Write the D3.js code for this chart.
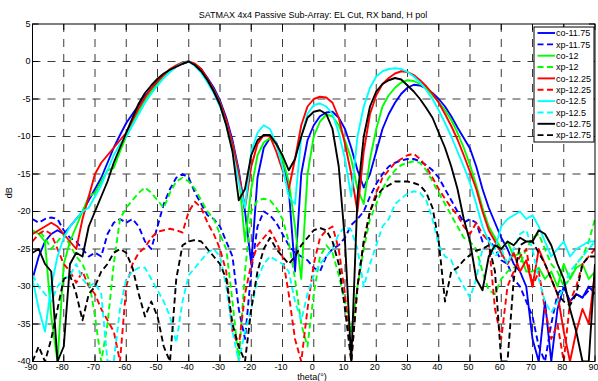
<!DOCTYPE html>
<meta charset="utf-8">
<style>
  body { margin:0; background:#fff; }
  text { font-family:"Liberation Sans", Arial, sans-serif; font-size:9px; fill:#000; }
</style>
<svg width="598" height="381"></svg>
<script src="https://d3js.org/d3.v7.min.js"></script>
<script>

// sample angles (deg) and axis ticks
var theta = d3.range(-90, 91, 2);
var xTicks = [-90,-80,-70,-60,-50,-40,-30,-20,-10,0,10,20,30,40,50,60,70,80,90];
var yTicks = [5,0,-5,-10,-15,-20,-25,-30,-35,-40];

// dB values, one per theta
var co1175 = [-29,-26,-24,-23,-22.5,-23,-22,-21,-20,-18.5,
  -17,-15.5,-13.5,-11.5,-9.8,-8.2,-7,-5.8,-4.6,-3.6,
  -2.8,-2,-1.3,-0.7,-0.3,0,-0.4,-1,-2.2,-3.5,
  -5.2,-7.5,-10.5,-14.5,-20,-27,-15.5,-11.5,-10.2,-10.8,
  -13,-17,-28,-15,-10.5,-8.5,-7.3,-6.8,-6.7,-7.5,
  -9,-11.5,-14.5,-16.8,-15,-12,-9,-7,-5.5,-4.3,
  -3.5,-3.1,-3.2,-3.6,-4.2,-5,-6,-7.3,-8.8,-10.2,
  -11.6,-14,-17,-19.5,-21.5,-23.5,-25,-27,-28,-30,
  -37,-40,-32,-40,-33,-30,-32,-31,-31.5,-30,
  -31];
var xp1175 = [-21,-21.5,-21,-20.8,-21,-22.5,-23.5,-24,-25,-26,
  -25.5,-26,-23,-21.5,-21,-21.5,-21,-22,-24,-25,
  -22,-19,-17,-15.5,-15,-15.5,-17.5,-19,-20.5,-21,
  -22,-24,-26,-33,-37,-28,-22,-20,-20.5,-21.5,
  -23,-24.5,-25.5,-26,-26.5,-27.5,-28,-26,-25,-24.5,
  -23.5,-21.8,-21,-20,-18,-16.3,-15,-14,-13.5,-13.2,
  -13,-13,-13.3,-13.8,-14.5,-15.5,-17,-18.5,-20,-21.5,
  -21,-21.5,-24,-23.5,-25,-26.5,-27,-29,-30,-32,
  -34,-38,-40,-35,-31,-30,-32,-31,-31.5,-30.5,
  -30];
var co12 = [-22.5,-23,-24,-34,-40,-27,-24,-22,-20,-18,
  -17.5,-16,-14.5,-14.2,-12,-10,-8.3,-6.6,-5.2,-4,
  -3,-2,-1.2,-0.6,-0.2,0,-0.4,-1.2,-2.5,-3.8,
  -5.5,-8,-11,-15,-24,-17,-12.5,-10.8,-10.2,-11,
  -13,-16,-22,-29,-15,-10,-8,-7.1,-7.3,-8.5,
  -10.5,-13,-17,-19,-13,-9,-6,-4.5,-3.5,-2.8,
  -2.5,-2.6,-3,-3.5,-4.5,-5.4,-6.5,-7.8,-9.5,-11.5,
  -13.8,-16.5,-19.5,-22,-23.5,-25,-24,-26,-25.5,-28,
  -28,-27.5,-29,-28,-30,-27,-29,-27.5,-27,-29,
  -28];
var xp12 = [-23,-22.5,-23.5,-25,-24,-23,-24.5,-26,-27,-29,
  -34,-40,-35,-27,-21,-19.5,-18.5,-17.5,-16.8,-17.5,
  -18.5,-19.5,-17.5,-16,-15.5,-16,-17,-18.5,-20,-21,
  -23,-25,-32,-40,-28,-20,-18.5,-18.3,-18.5,-19.5,
  -21,-24,-29,-35,-38,-31,-26,-24.5,-25.5,-28.5,
  -32,-36,-30,-25,-21,-19,-17,-15.5,-14.5,-13.8,
  -13.5,-13.3,-13.5,-14.5,-16,-17.5,-19,-20.5,-22,-23.5,
  -24,-25,-28,-30.5,-31,-29,-28,-27.5,-27,-25,
  -23.5,-23,-25,-27,-28,-30,-29,-27,-26,-24,
  -21];
var co1225 = [-23,-22.5,-22,-21.5,-22,-23,-24,-25,-21,-18,
  -15,-13.5,-12.5,-11.5,-10.5,-9.5,-7.8,-6.2,-4.8,-3.6,
  -2.6,-1.8,-1,-0.5,-0.1,0,-0.3,-1,-2.3,-3.8,
  -5.5,-7.8,-11,-15,-19.5,-14,-11,-9.8,-10,-12,
  -14.5,-17,-13,-8.5,-6,-5,-4.7,-4.8,-5.5,-7.5,
  -11,-15,-20,-12,-7,-4.5,-3,-2.2,-1.6,-1.3,
  -1.4,-1.8,-2.5,-3.3,-4.3,-5.5,-7,-8.6,-10.4,-12.5,
  -14.7,-17,-20,-22.5,-24,-25.5,-27,-25.5,-28,-26.5,
  -30,-25,-27,-29,-31,-36,-40,-36,-33,-35,
  -28];
var xp1225 = [-24,-23,-22.5,-23,-25,-27,-28,-29.5,-28,-30,
  -31,-33,-34.5,-36,-40,-30,-27,-25.5,-24.8,-23.5,
  -22.7,-22.5,-22.3,-22.5,-22.8,-20,-18.7,-19.5,-21.5,-23,
  -25,-28,-36,-38,-31,-27,-24.5,-23.5,-22.5,-24,
  -26,-31,-37,-40,-33,-27,-23.5,-22.5,-22,-25,
  -31,-40,-30,-24,-20,-17.5,-15.5,-14.5,-13.5,-13,
  -12.5,-12.3,-13,-14,-15.5,-17,-18.3,-19.5,-20.5,-22,
  -23,-21.5,-23,-24,-33,-37,-30,-28,-26,-25,
  -30,-28,-33,-37,-35,-40,-32,-30,-27,-26,
  -25];
var co125 = [-29,-33,-36,-30,-26,-23.5,-22,-21,-20,-19.5,
  -18,-16.5,-14.5,-12.5,-11,-10,-8.5,-7,-5.5,-4.3,
  -3.2,-2.2,-1.4,-0.7,-0.2,0,-0.6,-1.5,-2.8,-4.2,
  -6,-8.5,-12,-16,-19.5,-12,-9.5,-8.5,-9,-11,
  -14,-18,-19,-10,-7,-5.8,-5.6,-6,-7,-9.5,
  -13,-18,-10,-6,-3.5,-2,-1.3,-1,-0.9,-1,
  -1.4,-2,-2.8,-3.8,-5,-6.5,-8.2,-10,-12,-14,
  -16.2,-19,-22,-24,-25,-22,-21,-20.5,-20,-21,
  -20.5,-22,-24,-26,-25,-24,-26,-25,-24.5,-24,
  -24];
var xp125 = [-28.5,-30,-31,-32,-30,-29,-28.5,-27,-29,-30,
  -29.5,-31,-40,-40,-33,-29,-28,-27.5,-27.5,-29,
  -30.5,-32,-34,-37.5,-32,-28.5,-27.5,-26.5,-25.5,-25,
  -26,-30,-36,-40,-36,-33,-29,-27,-26,-26.5,
  -27,-28,-32,-34.5,-31,-28.5,-27,-26,-25,-23,
  -22,-22.5,-25,-30,-27,-24.5,-22,-21,-19,-18.3,
  -17.6,-17.3,-17.5,-18.5,-21,-24.5,-26,-26.5,-28.5,-30,
  -31.5,-29,-25,-24.5,-26,-25,-27,-25,-23,-22.5,
  -25,-29,-32,-33.5,-32,-30,-28,-27,-26,-25,
  -24];
var co1275 = [-25.5,-25,-27,-28,-40,-38,-27,-25.5,-26,-22,
  -20,-18,-16,-13.5,-11.5,-9.5,-7.5,-5.6,-4.2,-3.2,
  -2.3,-1.6,-1.1,-0.7,-0.3,0,-0.5,-1.3,-2.5,-4,
  -5.8,-8.5,-12,-18.5,-17,-12.5,-10.5,-9.8,-9.8,-11,
  -12.5,-14.5,-13,-10,-7.5,-6.7,-6.5,-7,-9,-14,
  -24,-40,-18,-10,-6,-4,-3,-2.5,-2.2,-2.4,
  -3.2,-4,-5,-6.2,-7.5,-9.5,-11.5,-14,-17,-21,
  -24,-29,-30.5,-26,-24.5,-25,-24,-24.5,-23.5,-24,
  -24,-22.5,-23,-24.5,-27,-29,-33,-36,-40,-40,
  -27];
var xp1275 = [-40,-38,-40,-37,-33,-29,-28.5,-31,-34.5,-31,
  -30,-28,-27,-25.5,-25,-25.5,-27.5,-31,-34,-32,
  -34,-38,-40,-29,-24.5,-24,-23.8,-24,-25,-26,
  -27,-29,-35,-38,-40,-33,-28,-25,-23.5,-25,
  -26,-27,-26,-24.5,-23.5,-22.5,-22.2,-22.5,-24,-27,
  -33,-40,-30,-24,-20,-18,-17,-16.5,-16,-16,
  -16,-16.2,-16.5,-17.5,-19.5,-24,-32,-28,-27.5,-26.5,
  -25.8,-25.2,-25,-24.5,-28,-40,-40,-29,-24.5,-24,
  -24,-25.5,-27,-29,-31,-32,-32.5,-31,-27,-26,
  -26];

var series = [
  {name:"co-11.75", color:"#0000ff", dashed:false, values:co1175},
  {name:"xp-11.75", color:"#0000ff", dashed:true,  values:xp1175},
  {name:"co-12",    color:"#00ff00", dashed:false, values:co12},
  {name:"xp-12",    color:"#00ff00", dashed:true,  values:xp12},
  {name:"co-12.25", color:"#ff0000", dashed:false, values:co1225},
  {name:"xp-12.25", color:"#ff0000", dashed:true,  values:xp1225},
  {name:"co-12.5",  color:"#00ffff", dashed:false, values:co125},
  {name:"xp-12.5",  color:"#00ffff", dashed:true,  values:xp125},
  {name:"co-12.75", color:"#000000", dashed:false, values:co1275},
  {name:"xp-12.75", color:"#000000", dashed:true,  values:xp1275}
];

var svg = d3.select("svg"),
    pL = 32.5, pR = 595, pT = 24, pB = 361.5;

var x = d3.scaleLinear().domain([-90, 90]).range([pL, pR]);
var y = d3.scaleLinear().domain([-40, 5]).range([pB, pT]);

svg.append("defs").append("clipPath").attr("id", "plot")
  .append("rect")
    .attr("x", pL).attr("y", pT)
    .attr("width", pR - pL).attr("height", pB - pT);

// grid
var grid = svg.append("g")
    .attr("stroke", "#3a3a3a")
    .attr("stroke-width", 1)
    .attr("stroke-dasharray", "8,7");

grid.selectAll(".vg")
  .data(xTicks.slice(1, -1))
  .enter().append("line")
    .attr("x1", x).attr("x2", x)
    .attr("y1", pT).attr("y2", pB);

grid.selectAll(".hg")
  .data(yTicks.slice(1, -1))
  .enter().append("line")
    .attr("y1", y).attr("y2", y)
    .attr("x1", pL).attr("x2", pR);

// curves
var line = d3.line()
    .x(function(d, i) { return x(theta[i]); })
    .y(function(d) { return y(d); });

svg.append("g")
    .attr("clip-path", "url(#plot)")
    .attr("fill", "none")
  .selectAll("path")
  .data(series)
  .enter().append("path")
    .attr("stroke", function(d) { return d.color; })
    .attr("stroke-width", 1.9)
    .attr("stroke-linejoin", "round")
    .attr("stroke-dasharray", function(d) { return d.dashed ? "6,3.5" : null; })
    .attr("d", function(d) { return line(d.values); });

// box + inward ticks
var axes = svg.append("g").attr("stroke", "#000").attr("stroke-width", 1);

axes.append("rect")
    .attr("x", pL).attr("y", pT)
    .attr("width", pR - pL).attr("height", pB - pT)
    .attr("fill", "none");

xTicks.forEach(function(t) {
  axes.append("line").attr("x1", x(t)).attr("x2", x(t)).attr("y1", pB).attr("y2", pB - 6);
  axes.append("line").attr("x1", x(t)).attr("x2", x(t)).attr("y1", pT).attr("y2", pT + 6);
});
yTicks.forEach(function(t) {
  axes.append("line").attr("y1", y(t)).attr("y2", y(t)).attr("x1", pL).attr("x2", pL + 6);
  axes.append("line").attr("y1", y(t)).attr("y2", y(t)).attr("x1", pR).attr("x2", pR - 6);
});

// tick labels
svg.append("g").selectAll("text")
  .data(xTicks)
  .enter().append("text")
    .attr("x", function(d) { return x(d) - 1.5; })
    .attr("y", 370)
    .attr("text-anchor", "middle")
    .text(function(d) { return d; });

svg.append("g").selectAll("text")
  .data(yTicks)
  .enter().append("text")
    .attr("x", 30.5)
    .attr("y", y)
    .attr("dy", "0.3em")
    .attr("text-anchor", "end")
    .text(function(d) { return d; });

// titles
svg.append("text")
    .attr("x", 313).attr("y", 18)
    .attr("text-anchor", "middle")
    .text("SATMAX 4x4 Passive Sub-Array: EL Cut, RX band, H pol");

svg.append("text")
    .attr("x", 312).attr("y", 380)
    .attr("text-anchor", "middle")
    .text("theta(°)");

svg.append("text")
    .attr("transform", "translate(12," + (pT + pB) / 2 + ")rotate(-90)")
    .attr("text-anchor", "middle")
    .text("dB");

// legend
var lg = svg.append("g");

lg.append("rect")
    .attr("x", 534).attr("y", 27)
    .attr("width", 60).attr("height", 115)
    .attr("fill", "#fff")
    .attr("stroke", "#000");

var item = lg.selectAll("g")
  .data(series)
  .enter().append("g")
    .attr("transform", function(d, i) { return "translate(0," + (33 + i * 11.35) + ")"; });

item.append("line")
    .attr("x1", 537.5).attr("x2", 555)
    .attr("stroke", function(d) { return d.color; })
    .attr("stroke-width", 1.9)
    .attr("stroke-dasharray", function(d) { return d.dashed ? "6,3.5" : null; });

item.append("text")
    .attr("x", 556)
    .attr("dy", "0.35em")
    .text(function(d) { return d.name; });

</script>
